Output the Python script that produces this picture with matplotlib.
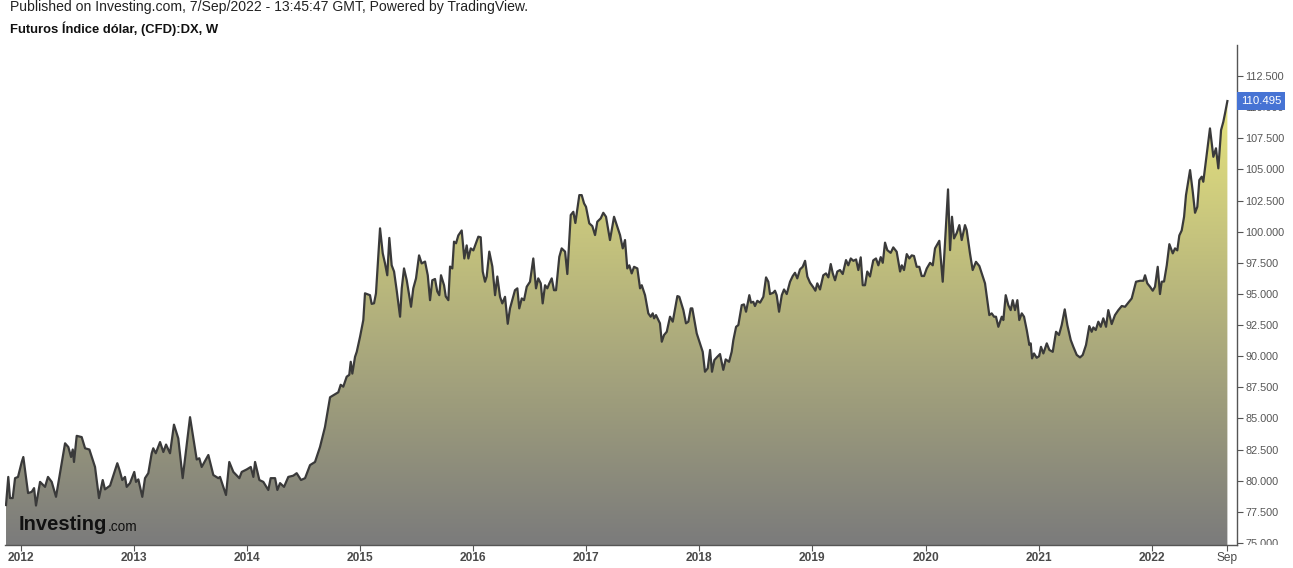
import numpy as np
import matplotlib
matplotlib.use("Agg")
import matplotlib.pyplot as plt
from matplotlib.colors import LinearSegmentedColormap
from matplotlib.patches import Polygon
from matplotlib.transforms import Bbox

plt.rcParams['font.family'] = ['Liberation Sans', 'DejaVu Sans']

# weekly DXY futures (decimal year, close)
years = [
    2011.870, 2011.890, 2011.905, 2011.929, 2011.950, 2011.976, 2012.009, 2012.023, 2012.065, 2012.097,
    2012.118, 2012.135, 2012.171, 2012.215, 2012.241, 2012.274, 2012.312, 2012.392, 2012.421, 2012.445,
    2012.460, 2012.471, 2012.495, 2012.539, 2012.569, 2012.607, 2012.657, 2012.692, 2012.725, 2012.745,
    2012.790, 2012.854, 2012.872, 2012.898, 2012.922, 2012.937, 2012.966, 2013.004, 2013.019, 2013.040,
    2013.075, 2013.099, 2013.128, 2013.158, 2013.172, 2013.194, 2013.232, 2013.261, 2013.285, 2013.320,
    2013.355, 2013.393, 2013.432, 2013.497, 2013.556, 2013.579, 2013.600, 2013.659, 2013.703, 2013.747,
    2013.762, 2013.815, 2013.844, 2013.880, 2013.933, 2013.954, 2013.998, 2014.034, 2014.057, 2014.072,
    2014.110, 2014.145, 2014.189, 2014.210, 2014.249, 2014.269, 2014.293, 2014.328, 2014.366, 2014.410,
    2014.440, 2014.478, 2014.514, 2014.558, 2014.602, 2014.646, 2014.690, 2014.735, 2014.808, 2014.829,
    2014.852, 2014.882, 2014.905, 2014.918, 2014.932, 2014.956, 2014.971, 2015.000, 2015.029, 2015.044,
    2015.088, 2015.103, 2015.124, 2015.141, 2015.177, 2015.201, 2015.221, 2015.241, 2015.259, 2015.280,
    2015.301, 2015.324, 2015.354, 2015.369, 2015.389, 2015.413, 2015.451, 2015.471, 2015.495, 2015.522,
    2015.545, 2015.575, 2015.599, 2015.619, 2015.639, 2015.663, 2015.683, 2015.701, 2015.716, 2015.743,
    2015.758, 2015.781, 2015.796, 2015.816, 2015.831, 2015.849, 2015.869, 2015.899, 2015.922, 2015.943,
    2015.958, 2015.979, 2016.002, 2016.046, 2016.067, 2016.085, 2016.105, 2016.120, 2016.143, 2016.170,
    2016.194, 2016.214, 2016.238, 2016.258, 2016.282, 2016.306, 2016.326, 2016.370, 2016.391, 2016.408,
    2016.430, 2016.450, 2016.474, 2016.503, 2016.532, 2016.556, 2016.576, 2016.598, 2016.615, 2016.636,
    2016.656, 2016.674, 2016.695, 2016.715, 2016.733, 2016.762, 2016.783, 2016.813, 2016.833, 2016.863,
    2016.886, 2016.904, 2016.939, 2016.960, 2016.981, 2016.998, 2017.027, 2017.054, 2017.078, 2017.098,
    2017.128, 2017.151, 2017.175, 2017.210, 2017.246, 2017.275, 2017.299, 2017.323, 2017.343, 2017.363,
    2017.381, 2017.402, 2017.423, 2017.452, 2017.476, 2017.491, 2017.520, 2017.549, 2017.570, 2017.588,
    2017.600, 2017.617, 2017.652, 2017.668, 2017.688, 2017.712, 2017.741, 2017.765, 2017.806, 2017.823,
    2017.859, 2017.882, 2017.903, 2017.924, 2017.938, 2017.977, 2018.006, 2018.030, 2018.050, 2018.074,
    2018.095, 2018.112, 2018.133, 2018.159, 2018.183, 2018.212, 2018.233, 2018.263, 2018.286, 2018.301,
    2018.325, 2018.345, 2018.375, 2018.395, 2018.413, 2018.442, 2018.457, 2018.477, 2018.492, 2018.513,
    2018.537, 2018.566, 2018.590, 2018.610, 2018.625, 2018.654, 2018.669, 2018.684, 2018.705, 2018.729,
    2018.749, 2018.773, 2018.802, 2018.826, 2018.846, 2018.866, 2018.890, 2018.914, 2018.935, 2018.955,
    2018.979, 2019.008, 2019.026, 2019.043, 2019.067, 2019.096, 2019.120, 2019.141, 2019.162, 2019.180,
    2019.200, 2019.220, 2019.244, 2019.268, 2019.297, 2019.317, 2019.339, 2019.362, 2019.386, 2019.406,
    2019.427, 2019.445, 2019.465, 2019.485, 2019.509, 2019.538, 2019.562, 2019.583, 2019.604, 2019.622,
    2019.642, 2019.662, 2019.692, 2019.715, 2019.745, 2019.775, 2019.790, 2019.810, 2019.834, 2019.857,
    2019.878, 2019.898, 2019.922, 2019.945, 2019.966, 2019.987, 2020.011, 2020.040, 2020.064, 2020.084,
    2020.122, 2020.152, 2020.172, 2020.199, 2020.217, 2020.234, 2020.252, 2020.276, 2020.299, 2020.320,
    2020.349, 2020.364, 2020.393, 2020.417, 2020.446, 2020.476, 2020.506, 2020.526, 2020.564, 2020.585,
    2020.606, 2020.623, 2020.644, 2020.674, 2020.688, 2020.709, 2020.732, 2020.753, 2020.771, 2020.791,
    2020.812, 2020.829, 2020.851, 2020.871, 2020.895, 2020.918, 2020.930, 2020.942, 2020.959, 2020.983,
    2021.004, 2021.021, 2021.042, 2021.072, 2021.095, 2021.125, 2021.154, 2021.180, 2021.204, 2021.231,
    2021.254, 2021.284, 2021.307, 2021.337, 2021.366, 2021.390, 2021.419, 2021.448, 2021.469, 2021.484,
    2021.505, 2021.528, 2021.549, 2021.572, 2021.596, 2021.616, 2021.646, 2021.675, 2021.705, 2021.735,
    2021.764, 2021.788, 2021.823, 2021.861, 2021.897, 2021.926, 2021.941, 2021.961, 2021.985, 2022.009,
    2022.029, 2022.053, 2022.073, 2022.088, 2022.109, 2022.133, 2022.156, 2022.186, 2022.206, 2022.226,
    2022.244, 2022.265, 2022.286, 2022.303, 2022.339, 2022.363, 2022.383, 2022.403, 2022.421, 2022.442,
    2022.456, 2022.480, 2022.515, 2022.545, 2022.568, 2022.589, 2022.613, 2022.633, 2022.648, 2022.669,
]
dxy = [
    78.04, 80.3, 78.6, 78.6, 80.2, 80.3, 81.5, 81.9, 79.0, 79.1,
    79.4, 78.0, 79.9, 79.5, 80.3, 79.9, 78.7, 83.0, 82.7, 81.9,
    82.5, 81.5, 83.6, 83.5, 82.6, 82.5, 81.1, 78.6, 80.05, 79.3,
    79.6, 81.4, 80.9, 80.05, 80.3, 79.5, 79.8, 80.7, 79.9, 80.1,
    78.7, 80.2, 80.6, 82.2, 82.6, 82.2, 83.1, 82.3, 82.9, 82.2,
    84.5, 83.4, 80.2, 85.1, 81.7, 81.8, 81.1, 82.06, 80.45, 80.2,
    80.3, 78.85, 81.5, 80.7, 80.2, 80.7, 80.9, 81.1, 80.3, 81.5,
    80.05, 79.9, 79.25, 80.2, 80.2, 79.25, 79.8, 79.5, 80.3, 80.4,
    80.6, 80.05, 80.2, 81.25, 81.5, 82.7, 84.3, 86.7, 87.1, 87.7,
    87.55, 88.35, 88.5, 89.55, 88.6, 89.95, 90.35, 91.55, 92.9, 95.05,
    94.9, 94.2, 94.25, 95.05, 100.27, 98.26, 97.45, 96.5, 99.5, 97.3,
    96.8, 95.3, 93.17, 95.45, 97.05, 96.1, 93.97, 95.45, 96.25, 98.1,
    97.45, 97.6, 96.5, 94.5, 96.1, 96.2, 95.2, 94.9, 96.5, 95.7,
    94.8, 94.5, 97.2, 97.05, 99.2, 99.07, 99.7, 100.1, 97.85, 98.9,
    97.85, 98.66, 98.5, 99.6, 99.55, 96.8, 95.98, 96.4, 98.4, 97.2,
    94.9, 96.4, 94.77, 94.24, 94.77, 92.6, 93.84, 95.3, 95.45, 93.84,
    94.64, 94.5, 95.58, 95.98, 97.85, 95.45, 96.25, 95.85, 94.24, 95.7,
    95.45, 95.85, 96.25, 95.3, 95.3, 97.98, 98.66, 98.4, 96.6, 101.34,
    101.6, 100.7, 102.94, 102.94, 102.27, 102.0, 100.67, 100.45, 99.73, 100.8,
    101.07, 101.52, 101.2, 99.33, 101.2, 100.4, 99.73, 98.66, 99.33, 97.05,
    97.3, 96.65, 97.18, 97.05, 95.45, 95.7, 94.9, 93.44, 93.17, 93.44,
    93.04, 93.3, 92.64, 91.16, 91.7, 91.96, 93.17, 92.77, 94.83, 94.77,
    93.7, 92.64, 92.77, 93.84, 93.84, 91.83, 91.03, 90.35, 88.75, 89.02,
    90.5, 88.75, 89.69, 89.95, 90.17, 88.9, 89.74, 89.55, 90.35, 91.3,
    92.36, 92.5, 94.1, 94.16, 93.57, 94.9, 94.3, 94.37, 94.03, 94.45,
    94.3, 94.77, 96.33, 95.98, 94.99, 95.1, 95.26, 94.9, 93.57, 94.9,
    95.36, 94.99, 95.98, 96.44, 96.7, 96.25, 96.97, 97.18, 97.66, 96.4,
    95.9, 95.53, 95.26, 95.85, 95.36, 96.5, 96.65, 96.33, 97.4, 96.65,
    96.1, 96.8, 96.92, 96.6, 97.72, 97.3, 97.85, 97.66, 97.77, 96.92,
    97.94, 95.7, 95.7, 96.8, 96.4, 97.7, 97.85, 97.3, 97.96, 97.5,
    99.12, 98.52, 98.3, 98.74, 98.39, 96.8, 97.3, 96.92, 98.2, 97.85,
    98.1, 98.05, 97.18, 97.18, 96.44, 96.44, 97.05, 97.5, 97.3, 98.66,
    99.27, 95.98, 99.06, 103.4, 98.52, 101.2, 99.46, 99.9, 100.53, 99.33,
    100.53, 100.13, 98.26, 96.92, 97.58, 97.24, 96.4, 95.85, 93.3, 93.44,
    93.17, 93.17, 92.36, 93.17, 92.9, 94.9, 94.1, 93.7, 94.5, 93.7,
    94.5, 92.9, 93.44, 93.17, 92.1, 90.9, 91.03, 89.82, 90.22, 89.87,
    90.0, 90.75, 90.22, 91.03, 90.5, 90.35, 91.96, 91.7, 92.5, 93.76,
    92.5, 91.3, 90.75, 90.1, 89.9, 90.1, 90.9, 92.42, 91.96, 92.31,
    92.1, 92.77, 92.36, 93.04, 92.36, 93.7, 92.58, 93.3, 93.7, 94.03,
    93.97, 94.24, 94.64, 95.98, 96.06, 96.06, 96.5, 95.85, 95.58, 95.26,
    95.58, 97.18, 94.99, 95.98, 96.0, 97.3, 99.0, 98.26, 98.66, 98.5,
    99.7, 100.1, 101.2, 102.94, 104.95, 103.2, 101.52, 102.0, 104.15, 104.42,
    104.01, 105.75, 108.3, 106.02, 106.7, 105.09, 108.16, 108.83, 109.5, 110.495,
]

x_ticks = [2012, 2013, 2014, 2015, 2016, 2017, 2018, 2019, 2020, 2021, 2022, 2022.667]
x_labels = ['2012', '2013', '2014', '2015', '2016', '2017', '2018', '2019', '2020', '2021', '2022', 'Sep']
y_ticks = [75.0, 77.5, 80.0, 82.5, 85.0, 87.5, 90.0, 92.5, 95.0, 97.5, 100.0, 102.5, 105.0, 107.5, 110.0, 112.5]
last_price = dxy[-1]

xmin, xmax = 2011.861, 2022.754
ymin, ymax = 74.83, 115.0

fig = plt.figure(figsize=(12.93, 5.68), dpi=100)
ax = fig.add_axes([5 / 1293, 23 / 568, 1232 / 1293, 500 / 568])

# gradient area under the line
cmap = LinearSegmentedColormap.from_list('dxy', ['#7b7b7b', '#e6e37e'])
grad = np.linspace(0, 1, 256).reshape(-1, 1)
im = ax.imshow(grad, extent=[xmin, xmax, ymin, max(dxy)], origin='lower',
               aspect='auto', cmap=cmap, zorder=1)
verts = [(years[0], ymin)] + list(zip(years, dxy)) + [(years[-1], ymin)]
area = Polygon(verts, closed=True, facecolor='none', edgecolor='none')
ax.add_patch(area)
im.set_clip_path(area)

ax.plot(years, dxy, color='#3a3a3a', lw=1.6, zorder=3, solid_joinstyle='round')

ax.set_xlim(xmin, xmax)
ax.set_ylim(ymin, ymax)

for s in ['top', 'left']:
    ax.spines[s].set_visible(False)
for s in ['right', 'bottom']:
    ax.spines[s].set_color('#555555')
    ax.spines[s].set_linewidth(1.0)

ax.yaxis.tick_right()
ax.set_yticks(y_ticks)
ax.set_yticklabels(['%.3f' % v for v in y_ticks])
ax.tick_params(axis='y', direction='out', length=4, width=0.8, color='#555555',
               labelcolor='#555555', labelsize=7.8, pad=2)
ax.set_xticks(x_ticks)
ax.set_xticklabels(x_labels)
ax.tick_params(axis='x', direction='out', length=4, width=0.8, color='#555555',
               labelcolor='#4a4a4a', labelsize=8.6, pad=1)
for lab in ax.get_xticklabels():
    if lab.get_text() != 'Sep':
        lab.set_fontweight('bold')

# bottom label is cut by the axis line as in the original
clip = Bbox.from_extents(0, 23, 1293, 568)
for t in ax.yaxis.get_major_ticks():
    t.label2.set_clip_box(clip)
    t.label2.set_clip_on(True)

# last price marker
ax.text(1.003, last_price, '%.3f' % last_price, transform=ax.get_yaxis_transform(),
        ha='left', va='center', color='white', fontsize=8.2, zorder=5,
        bbox=dict(boxstyle='square,pad=0.32', facecolor='#4673d4', edgecolor='none'))

fig.text(10 / 1293, 1 - 0.5 / 568, 'Published on Investing.com, 7/Sep/2022 - 13:45:47 GMT, Powered by TradingView.',
         ha='left', va='top', fontsize=10.1, color='#222222')
fig.text(10 / 1293, 1 - 21 / 568, 'Futuros Índice dólar, (CFD):DX, W',
         ha='left', va='top', fontsize=9.4, fontweight='bold', color='#111111')

# watermark logo
ax.text(0.011, 0.022, 'Investing', transform=ax.transAxes, fontsize=14.5,
        fontweight='bold', color='#111111', ha='left', va='bottom', zorder=4)
ax.text(0.083, 0.022, '.com', transform=ax.transAxes, fontsize=9.8,
        color='#111111', ha='left', va='bottom', zorder=4)

fig.savefig('out.png', dpi=100)
